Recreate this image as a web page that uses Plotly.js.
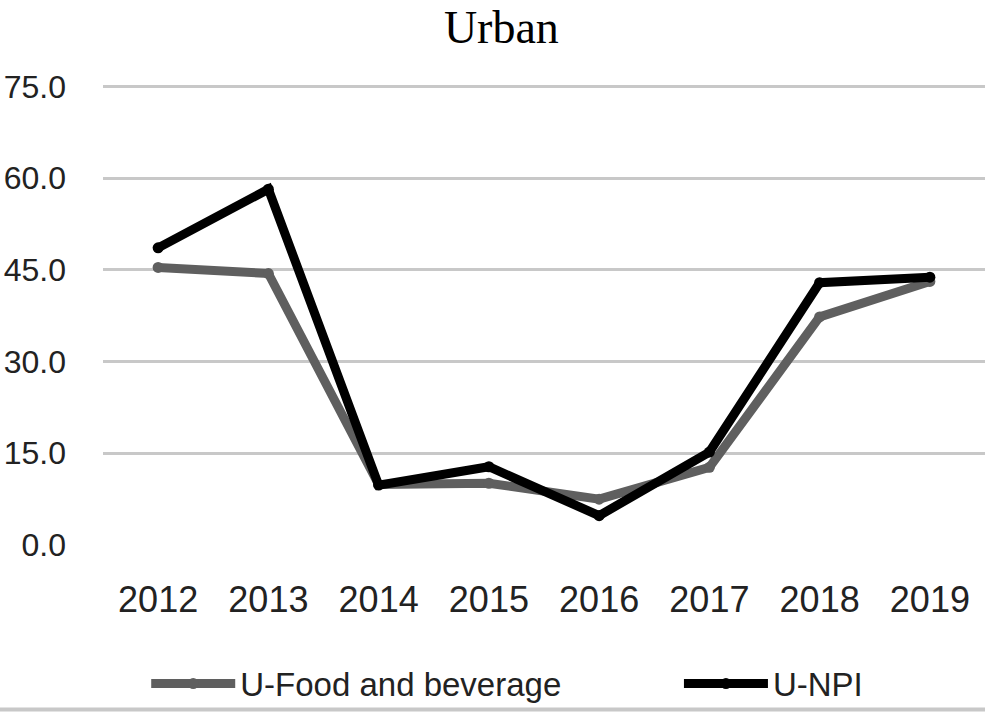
<!DOCTYPE html>
<html>
<head>
<meta charset="utf-8">
<script src="https://cdn.plot.ly/plotly-3.0.1.min.js"></script>
<style>html,body{margin:0;padding:0;background:#fff;}#chart{width:985px;height:714px;}</style>
</head>
<body>
<div id="chart"></div>
<script>
const years = ["2012","2013","2014","2015","2016","2017","2018","2019"];
const foodBeverage = [45.4, 44.4, 9.9, 10.1, 7.5, 12.7, 37.3, 43.1];
const npi = [48.6, 58.2, 9.8, 12.8, 4.8, 15.2, 42.9, 43.8];
const yTicks = [0, 15, 30, 45, 60, 75];
const yTickText = ["0.0", "15.0", "30.0", "45.0", "60.0", "75.0"];

const traces = [
  {
    x: years, y: foodBeverage, name: "U-Food and beverage",
    type: "scatter", mode: "lines+markers",
    line: {color: "#5f5f5f", width: 9},
    marker: {color: "#5f5f5f", size: 11},
    legend: "legend"
  },
  {
    x: years, y: npi, name: "U-NPI",
    type: "scatter", mode: "lines+markers",
    line: {color: "#000000", width: 9},
    marker: {color: "#000000", size: 11},
    legend: "legend2"
  }
];

const legendStyle = {
  orientation: "h",
  xanchor: "left",
  y: -0.24, yanchor: "top",
  bgcolor: "rgba(0,0,0,0)",
  font: {family: "Liberation Sans, Arial, sans-serif", size: 33, color: "#222"},
  itemwidth: 84
};

const layout = {
  width: 985, height: 714,
  paper_bgcolor: "#ffffff", plot_bgcolor: "#ffffff",
  margin: {l: 103, r: 0, t: 84, b: 169, autoexpand: false},
  title: {
    text: "Urban",
    font: {family: "Liberation Serif, Times New Roman, serif", size: 46, color: "#000"},
    x: 0.509, xanchor: "center", y: 0.985, yanchor: "top"
  },
  xaxis: {
    type: "category",
    range: [-0.5, 7.5],
    showgrid: false, zeroline: false, showline: false,
    ticks: "",
    ticklabelstandoff: 30,
    tickfont: {family: "Liberation Sans, Arial, sans-serif", size: 36, color: "#222"}
  },
  yaxis: {
    range: [0, 75.4],
    tickvals: yTicks, ticktext: yTickText,
    showgrid: true, gridcolor: "#c8c8c8", gridwidth: 3,
    zeroline: false, showline: false, ticks: "",
    ticklabelstandoff: 36,
    tickfont: {family: "Liberation Sans, Arial, sans-serif", size: 32, color: "#222"}
  },
  legend: Object.assign({}, legendStyle, {x: 0.049}),
  legend2: Object.assign({}, legendStyle, {x: 0.653}),
  shapes: [
    {type: "line", xref: "paper", yref: "paper", x0: -0.2, x1: 1.0, y0: -0.357, y1: -0.357,
     line: {color: "#c8c8c8", width: 4}}
  ],
  showlegend: true
};

Plotly.newPlot("chart", traces, layout, {displayModeBar: false, staticPlot: true});
</script>
</body>
</html>
